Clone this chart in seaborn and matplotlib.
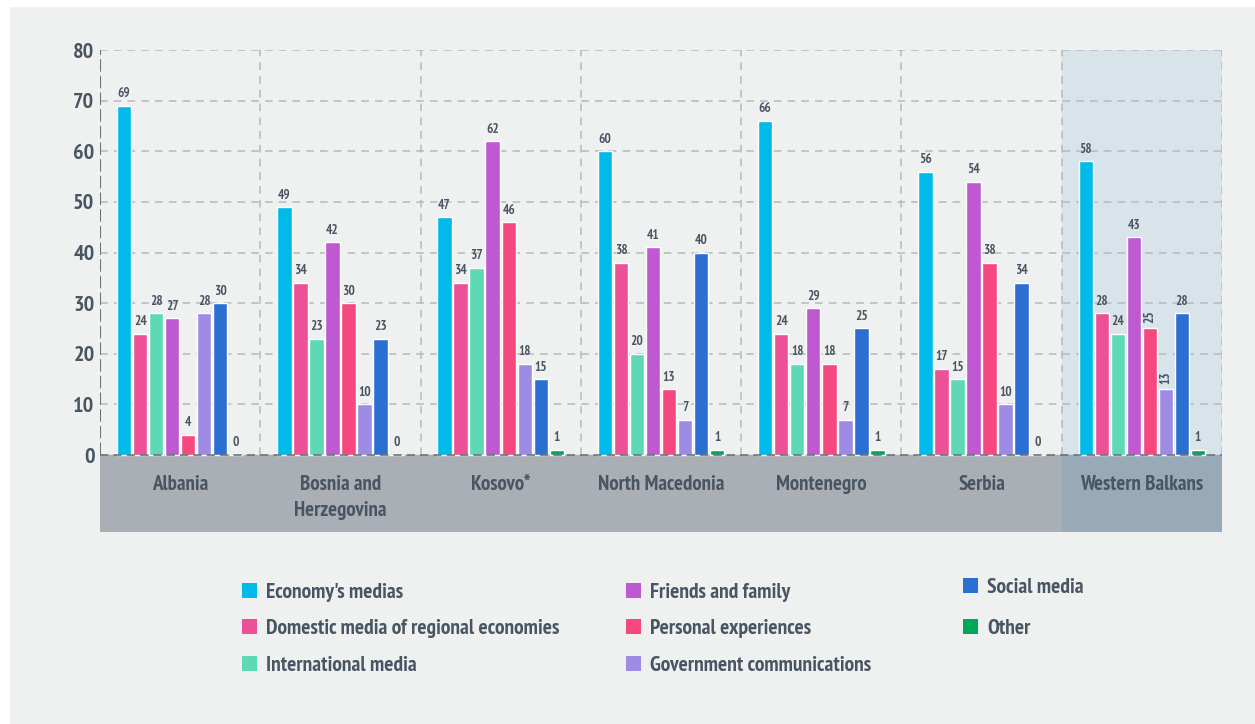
import pandas as pd
import seaborn as sns
import matplotlib.pyplot as plt
import numpy as np
from matplotlib import font_manager
from matplotlib.patches import Patch, Rectangle

economies = ["Albania", "Bosnia and\nHerzegovina", "Kosovo*", "North Macedonia",
             "Montenegro", "Serbia", "Western Balkans"]
sources = ["Economy's medias", "Domestic media of regional economies", "International media",
           "Friends and family", "Personal experiences", "Government communications",
           "Social media", "Other"]
colors = ["#00BBEA", "#EC5197", "#5ED8B5", "#BE59D2", "#F5487F", "#9E8BE3", "#2B6FD3", "#00A85A"]

economy_medias = [69, 49, 47, 60, 66, 56, 58]
domestic_regional = [24, 34, 34, 38, 24, 17, 28]
international = [28, 23, 37, 20, 18, 15, 24]
friends_family = [27, 42, 62, 41, 29, 54, 43]
personal = [4, 30, 46, 13, 18, 38, 25]
government = [28, 10, 18, 7, 7, 10, 13]
social = [30, 23, 15, 40, 25, 34, 28]
other = [0, 0, 1, 1, 1, 0, 1]

series = [economy_medias, domestic_regional, international, friends_family,
          personal, government, social, other]

rows = []
for src, vals in zip(sources, series):
    for eco, v in zip(economies, vals):
        rows.append({"economy": eco, "source": src, "value": v})
df = pd.DataFrame(rows)

# narrow bold font, closest to the condensed face of the original
names = {f.name for f in font_manager.fontManager.ttflist}
fam = "DejaVu Sans"
for cand in ["PT Sans Narrow", "Fira Sans Condensed", "Roboto Condensed",
             "Open Sans Condensed", "IBM Plex Sans Condensed"]:
    if cand in names:
        fam = cand
        break

sns.set_style("white")
plt.rcParams["font.family"] = [fam, "DejaVu Sans"]
plt.rcParams["font.weight"] = "bold"

txt = "#4A5563"
bg = "#EFF0F0"

fig = plt.figure(figsize=(12.55, 7.24), dpi=100, facecolor=bg)
fig.patches.append(Rectangle((0, 0), 9 / 1255, 1, transform=fig.transFigure,
                             color="white", zorder=-10))
fig.patches.append(Rectangle((0, 1 - 6 / 724), 1, 6 / 724, transform=fig.transFigure,
                             color="white", zorder=-10))

ax = fig.add_axes([100 / 1255, 1 - 532 / 724, 1122 / 1255, 482 / 724])
ax.set_facecolor(bg)

ymin = -15.2
# highlight for the regional total
ax.add_patch(Rectangle((5.5, 0), 1, 80, color="#D8E3EA", zorder=0))
ax.add_patch(Rectangle((-0.5, ymin), 6, -ymin, color="#A9AFB4", zorder=0))
ax.add_patch(Rectangle((5.5, ymin), 1, -ymin, color="#98AAB7", zorder=0))

for y in range(10, 90, 10):
    ax.plot([-0.5, 6.5], [y, y], color="#B5BABE", lw=1.1, ls=(0, (5, 4)), zorder=1)
for x in np.arange(0.5, 7, 1):
    ax.plot([x, x], [0, 80], color="#B5BABE", lw=1.1, ls=(0, (5, 4)), zorder=1)

sns.barplot(data=df, x="economy", y="value", hue="source", hue_order=sources,
            order=economies, palette=colors, gap=0.1, width=0.8, saturation=1,
            legend=False, ax=ax, zorder=3)

for i, cont in enumerate(ax.containers):
    labels = ax.bar_label(cont, padding=4, fontsize=9.5, color=txt, fontweight="bold")
    if i in (4, 5):
        labels[-1].set_rotation(90)

ax.plot([-0.5, 6.5], [0, 0], color="#6B737B", lw=1.2, ls=(0, (5, 3)), zorder=4)
ax.plot([-0.5, -0.5], [0, 80], color="#6B737B", lw=1.5, ls=(0, (6, 2)), zorder=4)

for i, eco in enumerate(economies):
    ax.text(i, -3.9, eco, ha="center", va="top", fontsize=15, color=txt,
            fontweight="bold", linespacing=1.45)

ax.set_xlim(-0.5, 6.5)
ax.set_ylim(ymin, 80)
ax.set_yticks(range(0, 90, 10))
ax.set_yticklabels([str(v) for v in range(0, 90, 10)], fontsize=16, color=txt,
                   fontweight="bold")
ax.tick_params(axis="y", length=0, pad=4)
ax.set_xticks([])
ax.set_xlabel("")
ax.set_ylabel("")
for s in ax.spines.values():
    s.set_visible(False)

handles = [Patch(facecolor=c, edgecolor="none") for c in colors]
cols = [(0, 3, 242, 583, 0.8), (3, 6, 626, 583, 0.8), (6, 8, 963, 578, 1.02)]
for a, b, px, py, sp in cols:
    leg = fig.legend(handles[a:b], sources[a:b], loc="upper left",
                     bbox_to_anchor=(px / 1255, 1 - py / 724), frameon=False,
                     fontsize=15.5, handlelength=0.7, handleheight=0.7,
                     handletextpad=0.42, labelspacing=sp, borderpad=0,
                     borderaxespad=0)
    for t in leg.get_texts():
        t.set_color(txt)
        t.set_fontweight("bold")

fig.savefig("out.png", dpi=100, facecolor=bg)
